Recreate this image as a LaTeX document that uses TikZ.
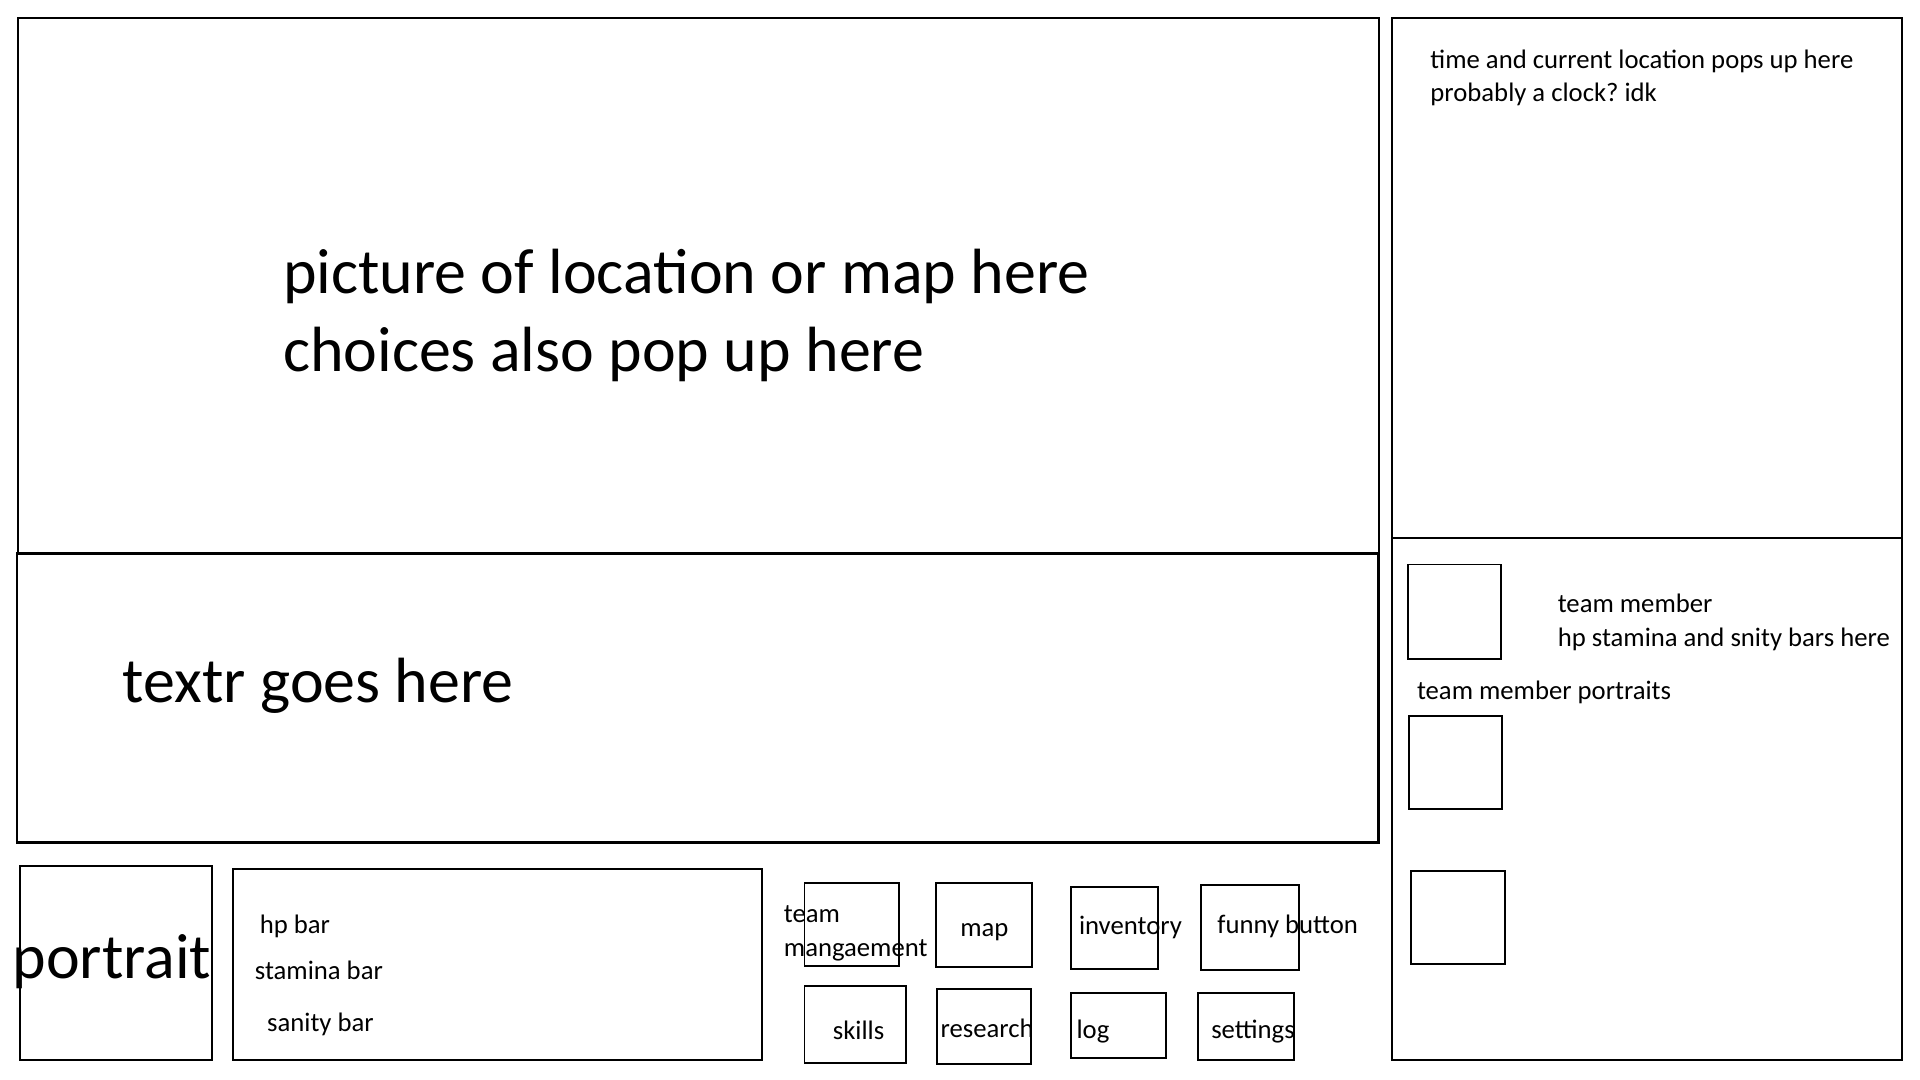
\documentclass[tikz,border=0pt]{standalone}
\usepackage{fontspec}
\setmainfont{Carlito}
\frenchspacing
\tikzset{
  panel/.style={draw=black,line width=1.6pt},
  bigtext/.style={anchor=base west,inner sep=0pt,font=\fontsize{52.2}{63}\selectfont},
  smalltext/.style={anchor=base west,inner sep=0pt,font=\fontsize{21.8}{27}\selectfont}
}
\begin{document}
\begin{tikzpicture}[x=1pt,y=-1pt]
\useasboundingbox[fill=white] (0,0) rectangle (1568,882);
\draw[panel] (15,15) rectangle (1126,452);
\draw[panel,line width=2.2pt] (14,452) rectangle (1126,688);
\draw[panel] (1137,15) rectangle (1553,439);
\draw[panel] (1137,439) rectangle (1553,866);
\draw[panel] (1150,461) rectangle (1226,538);
\draw[panel] (1151,585) rectangle (1227,661);
\draw[panel] (1152,711) rectangle (1229,787);
\draw[panel] (16,707) rectangle (173,866);
\draw[panel] (190,710) rectangle (622,866);
\draw[panel] (657,721) rectangle (734,789);
\draw[panel] (764,721) rectangle (843,790);
\draw[panel] (875,724) rectangle (946,791);
\draw[panel] (981,723) rectangle (1061,792);
\draw[panel] (657,805) rectangle (740,868);
\draw[panel] (765,808) rectangle (842,869);
\draw[panel] (875,811) rectangle (952,864);
\draw[panel] (978,811) rectangle (1057,866);
\node[bigtext] (picture) at (231,240) {picture of location or map here};
\node[bigtext] (choices) at (231,303) {choices also pop up here};
\node[bigtext] (textr) at (100,574) {textr goes here};
\node[bigtext] (portrait) at (10,799) {portrait};
\node[smalltext] (time) at (1168,56) {time and current location pops up here};
\node[smalltext] (clock) at (1168,83) {probably a clock? idk};
\node[smalltext] (member) at (1272,500) {team member};
\node[smalltext] (bars) at (1272,528) {hp stamina and snity bars here};
\node[smalltext] (portraits) at (1157,571) {team member portraits};
\node[smalltext] (hp) at (212,762) {hp bar};
\node[smalltext] (stamina) at (208,800) {stamina bar};
\node[smalltext] (sanity) at (218,842) {sanity bar};
\node[smalltext] (team) at (640,753) {team};
\node[smalltext] (mangaement) at (640,781) {mangaement};
\node[smalltext] (map) at (784,765) {map};
\node[smalltext] (inventory) at (881,763) {inventory};
\node[smalltext] (funny) at (994,762) {funny button};
\node[smalltext] (skills) at (680,849) {skills};
\node[smalltext] (research) at (768,847) {research};
\node[smalltext] (log) at (879,848) {log};
\node[smalltext] (settings) at (989,848) {settings};
\end{tikzpicture}
\end{document}
